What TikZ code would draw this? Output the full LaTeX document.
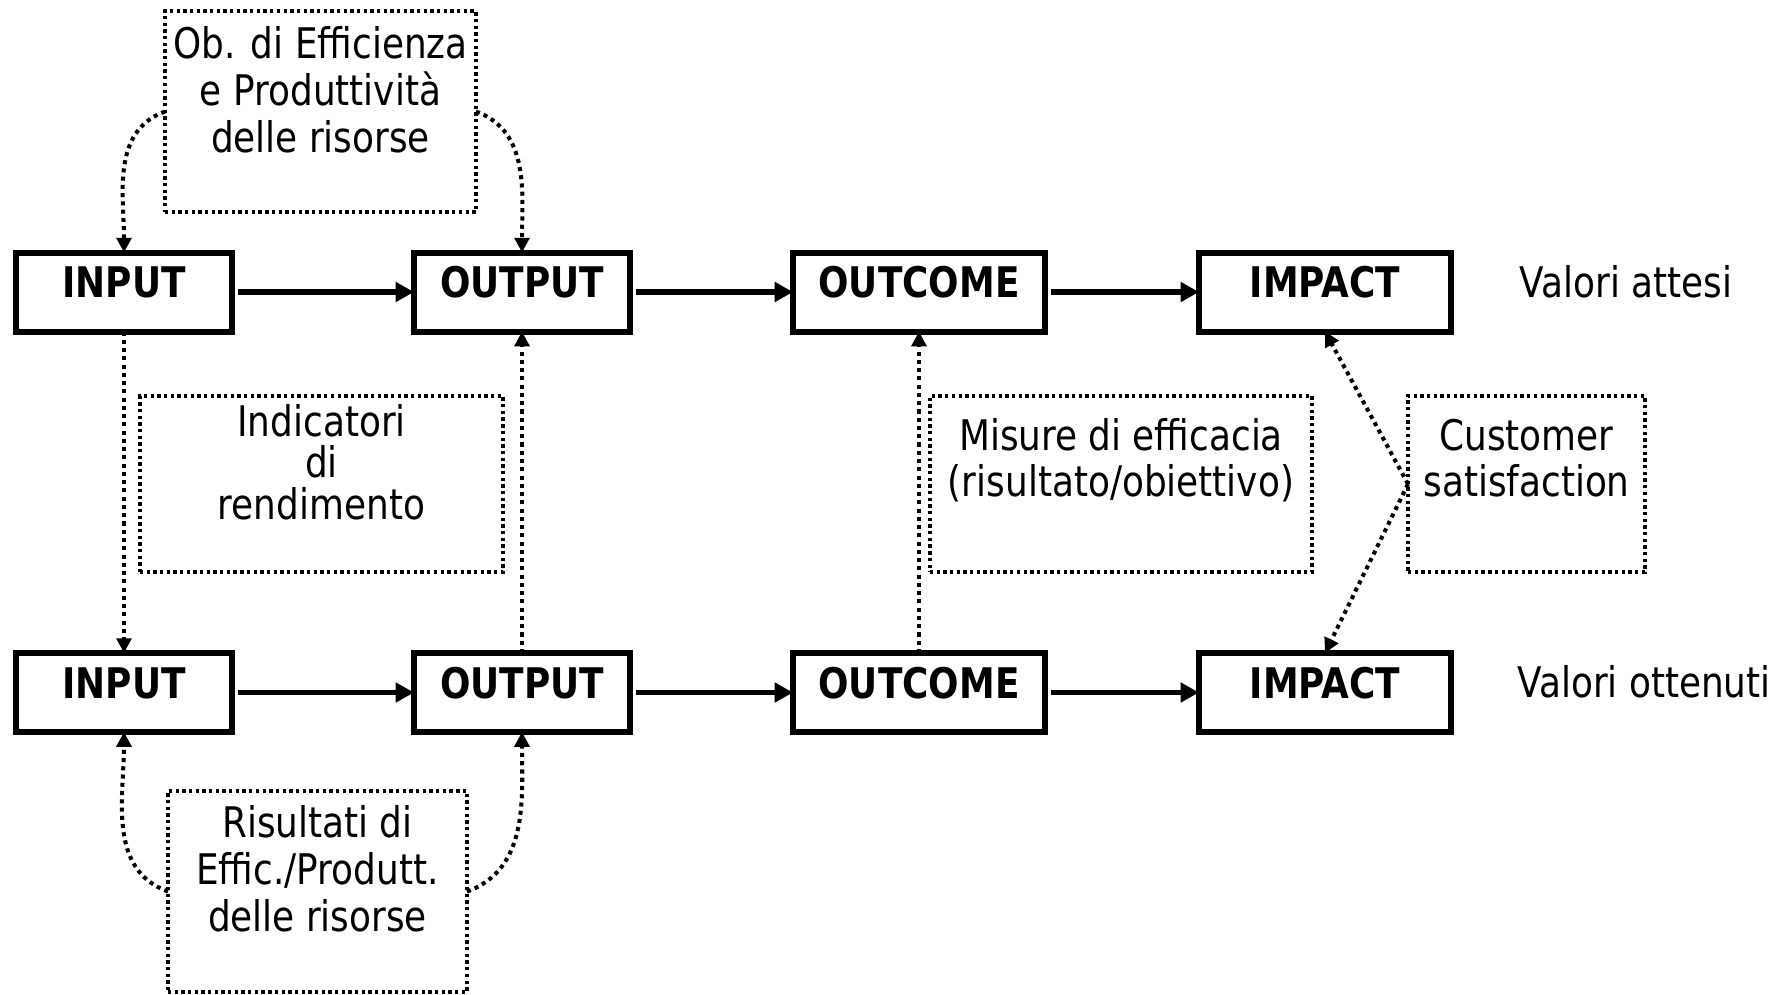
\documentclass[tikz,border=0pt]{standalone}
\usepackage{fontspec}
\setmainfont{DejaVu Sans}[FakeStretch=0.85]
\usetikzlibrary{arrows.meta}

\begin{document}
\begin{tikzpicture}[x=0.1mm,y=0.1mm,
  font=\fontsize{12}{13.4}\selectfont,
  stage/.style={draw, line width=1.7pt, inner sep=0pt, outer sep=0pt,
    text height=4.5mm, text depth=3.4mm,
    font=\fontsize{12}{13.4}\selectfont\bfseries},
  narrow/.style={minimum width=21.6mm},
  wide/.style={minimum width=25.2mm},
  note/.style={draw, line width=0.95pt, dash pattern=on 0.95pt off 0.95pt,
    inner sep=0pt, outer sep=0pt},
  notetext/.style={anchor=north, align=center, inner sep=0pt},
  flow/.style={line width=1.6pt, shorten <=0.6mm,
    -{Triangle[length=5.2pt,width=5.4pt]}},
  link/.style={line width=1.15pt, dash pattern=on 1.15pt off 1.2pt,
    -{Triangle[length=4.2pt,width=4.2pt]}},
]
\useasboundingbox (0,0) rectangle (1789,-994);

% expected values (top row)
\node[stage,narrow] (in1)  at (124,-292)  {INPUT};
\node[stage,narrow] (out1) at (522,-292)  {OUTPUT};
\node[stage,wide]   (oc1)  at (919,-292)  {OUTCOME};
\node[stage,wide]   (im1)  at (1325,-292) {IMPACT};
\node[anchor=base]  (va)   at (1626,-297) {Valori attesi};

% obtained values (bottom row)
\node[stage,narrow] (in2)  at (124,-692.5)  {INPUT};
\node[stage,narrow] (out2) at (522,-692.5)  {OUTPUT};
\node[stage,wide]   (oc2)  at (919,-692.5)  {OUTCOME};
\node[stage,wide]   (im2)  at (1325,-692.5) {IMPACT};
\node[anchor=base]  (vo)   at (1644,-697)   {Valori ottenuti};

% dotted notes
\node[note, minimum width=31.1mm, minimum height=20.1mm] (obbox) at (320.5,-111.5) {};
\node[notetext] (obtext) at ([yshift=-1.5mm]obbox.north)
  {Ob. di Efficienza\\e Produttività\\delle risorse};

\node[note, minimum width=36.3mm, minimum height=17.6mm] (ibox) at (321.5,-484) {};
\node[notetext, font=\fontsize{12}{11.7}\selectfont] (itext) at ([yshift=-0.8mm]ibox.north)
  {Indicatori\\di\\rendimento};

\node[note, minimum width=38.2mm, minimum height=17.6mm] (mbox) at (1121,-484) {};
\node[notetext, font=\fontsize{12}{13.1}\selectfont] (mtext) at ([yshift=-2.2mm]mbox.north)
  {Misure di efficacia\\(risultato/obiettivo)};

\node[note, minimum width=23.7mm, minimum height=17.6mm] (cbox) at (1526.5,-484) {};
\node[notetext, font=\fontsize{12}{13.1}\selectfont] (ctext) at ([yshift=-2.2mm]cbox.north)
  {Customer\\satisfaction};

\node[note, minimum width=29.9mm, minimum height=20.1mm] (rbox) at (317.5,-891.5) {};
\node[notetext] (rtext) at ([yshift=-1.4mm]rbox.north)
  {Risultati di\\Effic./Produtt.\\delle risorse};

% main flows
\draw[flow] (in1) -- (out1);
\draw[flow] (out1) -- (oc1);
\draw[flow] (oc1) -- (im1);
\draw[flow] (in2) -- (out2);
\draw[flow] (out2) -- (oc2);
\draw[flow] (oc2) -- (im2);

% dotted links
\draw[link] (obbox.west) to[out=200,in=90] (in1.north);
\draw[link] (obbox.east) to[out=-20,in=90] (out1.north);
\draw[link] (in1) -- (in2);
\draw[link] (out2) -- (out1);
\draw[link] (oc2) -- (oc1);
\draw[link] (cbox.west) -- (im1.south);
\draw[link] (cbox.west) -- (im2.north);
\draw[link] (rbox.west) to[out=160,in=-90] (in2.south);
\draw[link] (rbox.east) to[out=20,in=-90] (out2.south);
\end{tikzpicture}
\end{document}
